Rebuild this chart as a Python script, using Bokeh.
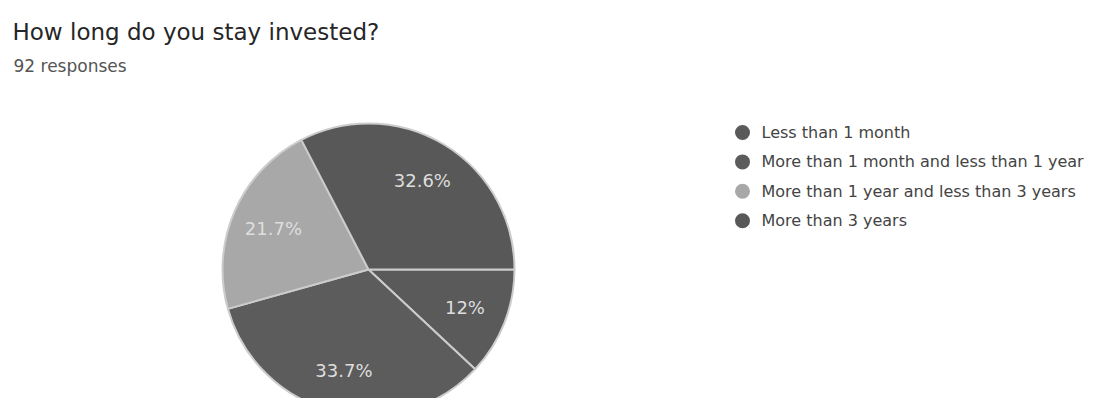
import math
from bokeh.plotting import figure
from bokeh.models import ColumnDataSource, Range1d
from bokeh.core.properties import value
from bokeh.embed import file_html
from bokeh.resources import INLINE

title_text = "How long do you stay invested?"
subtitle_text = "92 responses"
categories = ["Less than 1 month",
              "More than 1 month and less than 1 year",
              "More than 1 year and less than 3 years",
              "More than 3 years"]
counts = [11, 31, 20, 30]
colors = ["#5a5a5a", "#5c5c5c", "#a8a8a8", "#585858"]

W, H = 1099, 398
p = figure(width=W, height=H, output_backend="svg", toolbar_location=None,
           x_range=Range1d(0, W), y_range=Range1d(0, H), min_border=0)
p.axis.visible = False
p.grid.visible = False
p.outline_line_color = None
p.background_fill_color = "white"
p.border_fill_color = "white"

FONT = value("DejaVu Sans")

total = sum(counts)
pct = [c / total * 100 for c in counts]
labels = [("%d%%" % round(v)) if abs(v - round(v)) < 0.05 else ("%.1f%%" % v) for v in pct]

cx, cy, r = 368, 129, 146
starts, ends, mids = [], [], []
a = 0.0
for c in counts:
    sweep = c / total * 2 * math.pi
    starts.append(a)
    ends.append(a - sweep)
    mids.append(a - sweep / 2)
    a -= sweep

src = ColumnDataSource(dict(start=starts, end=ends, color=colors,
                            lx=[cx + 0.71 * r * math.cos(m) for m in mids],
                            ly=[cy + 0.71 * r * math.sin(m) for m in mids],
                            label=labels))
p.wedge(x=cx, y=cy, radius=r, start_angle="start", end_angle="end",
        direction="clock", fill_color="color", line_color="#cccccc",
        line_width=2, source=src)
p.text(x="lx", y="ly", text="label", source=src, text_align="center",
       text_baseline="middle", text_color="#dedede", text_font_size="18px",
       text_font=FONT)

# title
p.text(x=[12], y=[367], text=[title_text], text_baseline="alphabetic",
       text_color="#262626", text_font_size="23px", text_font=FONT)
p.text(x=[13], y=[333], text=[subtitle_text], text_baseline="alphabetic",
       text_color="#555555", text_font_size="17px", text_font=FONT)

# legend
ly = [266 - 29.4 * i for i in range(len(categories))]
lsrc = ColumnDataSource(dict(x=[742] * len(categories), y=ly, color=colors,
                             tx=[761] * len(categories), name=categories))
p.scatter(x="x", y="y", size=15, fill_color="color", line_color=None, source=lsrc)
p.text(x="tx", y="y", text="name", source=lsrc, text_baseline="middle",
       text_color="#444444", text_font_size="16px", text_font=FONT)

open("out.html", "w").write(file_html(p, INLINE))
